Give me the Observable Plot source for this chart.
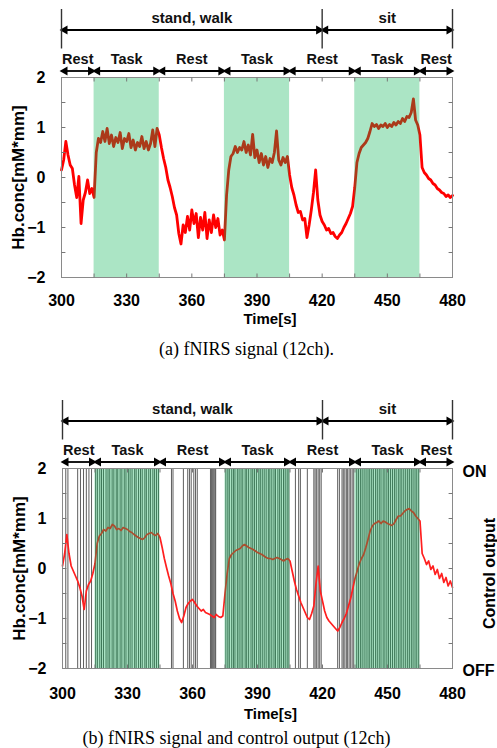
<!DOCTYPE html>
<html><head><meta charset="utf-8">
<script src="https://cdn.jsdelivr.net/npm/d3@7"></script>
<script src="https://cdn.jsdelivr.net/npm/@observablehq/plot@0.6"></script>
<style>
body{margin:0;background:#fff;}
#wrap{position:relative;width:497px;height:748px;overflow:hidden;background:#fff;}
.panel{position:absolute;left:0;}
.cap{position:absolute;width:497px;text-align:center;font-family:"Liberation Serif","Times New Roman",serif;font-size:18px;color:#000;line-height:20px;white-space:nowrap;}
</style></head><body>
<div id="wrap">
  <div id="p1" class="panel" style="top:0px"></div>
  <div class="cap" style="top:339px;left:-2px">(a) fNIRS signal (12ch).</div>
  <div id="p2" class="panel" style="top:380px"></div>
  <div class="cap" style="top:728px;left:-12px">(b) fNIRS signal and control output (12ch)</div>
</div>
<script>
// ---------- data ----------
const timeTicks = [300, 330, 360, 390, 420, 450, 480];
const hbTicks = [-2, -1, 0, 1, 2];
const minorTime = [315, 330, 345, 360, 375, 390, 405, 420, 435, 450, 465];
const minorHb = [-1.5, -1, -0.5, 0, 0.5, 1, 1.5];

const segStart = [300, 315, 345, 375, 405, 435, 465];
const segEnd   = [315, 345, 375, 405, 435, 465, 480];
const segLabel = ["Rest", "Task", "Rest", "Task", "Rest", "Task", "Rest"];

const phaseStart = [300, 420];
const phaseEnd   = [420, 480];
const phaseLabel = ["stand, walk", "sit"];
const phaseBounds = [300, 420, 480];

const taskStart = [315, 375, 435];
const taskEnd   = [345, 405, 465];

// sample times (1 s step) 300..480
const sampleTime = d3.range(300, 481);

// (a) fNIRS signal, 12ch
const hbA = [
 0.15, 0.35, 0.72, 0.45, 0.25, 0.18, -0.15, -0.4, 0.02, -0.92,
 -0.45, -0.3, -0.05, -0.32, -0.22, -0.4, 0.5, 0.78, 0.7, 0.92,
 0.72, 0.98, 0.68, 0.85, 0.62, 0.8, 0.7, 0.9, 0.58, 0.78,
 0.72, 0.88, 0.6, 0.75, 0.55, 0.7, 0.62, 0.82, 0.58, 0.72,
 0.55, 0.68, 0.95, 0.62, 0.98, 0.85, 0.6, 0.38, 0.2, -0.05,
 -0.2, -0.38, -0.6, -0.75, -1.12, -1.33, -0.95, -1.1, -0.78, -1.05,
 -0.65, -0.92, -0.72, -1.2, -0.8, -1.05, -0.7, -1.22, -0.85, -1.1,
 -0.75, -1.0, -0.82, -1.15, -1.05, -1.25, -0.35, 0.15, 0.42, 0.48,
 0.62, 0.5, 0.6, 0.55, 0.72, 0.5, 0.65, 0.45, 0.86, 0.4,
 0.55, 0.3, 0.48, 0.25, 0.42, 0.2, 0.38, 0.3, 0.5, 0.93,
 0.35, 0.25, 0.4, 0.3, 0.42, 0.05, -0.2, -0.35, -0.55, -0.7,
 -0.68, -0.85, -0.82, -1.2, -0.95, -0.65, -0.3, 0.15, -0.45, -0.75,
 -0.88, -0.95, -1.05, -1.02, -1.12, -1.1, -1.18, -1.22, -1.15, -1.1,
 -1.0, -0.92, -0.82, -0.72, -0.58, -0.2, 0.3, 0.48, 0.6, 0.65,
 0.7, 0.78, 0.92, 1.08, 1.02, 1.06, 0.98, 1.05, 1.02, 1.08,
 1.0, 1.06, 1.02, 1.1, 1.05, 1.12, 1.08, 1.18, 1.12, 1.22,
 1.2, 1.3, 1.57, 1.15, 1.05, 0.85, 0.2, 0.1, 0.05, -0.02,
 -0.05, -0.12, -0.15, -0.22, -0.25, -0.3, -0.32, -0.38, -0.35, -0.4,
 -0.36
];

// (b) fNIRS signal, 12ch (control run)
const hbB = [
 0.05, 0.3, 0.68, 0.3, 0.05, -0.05, -0.15, -0.25, -0.38, -0.55,
 -0.82, -0.45, -0.32, -0.25, -0.1, 0.1, 0.5, 0.65, 0.7, 0.78,
 0.75, 0.82, 0.8, 0.88, 0.85, 0.78, 0.8, 0.76, 0.82, 0.8,
 0.78, 0.74, 0.72, 0.68, 0.65, 0.62, 0.6, 0.58, 0.62, 0.68,
 0.7, 0.72, 0.68, 0.66, 0.7, 0.62, 0.42, 0.2, 0.02, -0.15,
 -0.3, -0.5, -0.65, -0.85, -1.0, -1.08, -0.95, -0.78, -0.7, -0.65,
 -0.62, -0.68, -0.75, -0.8, -0.85, -0.82, -0.88, -0.9, -0.92, -0.95,
 -0.98, -0.92, -0.96, -0.98, -0.95, -0.5, -0.1, 0.2, 0.28, 0.32,
 0.36, 0.38, 0.4, 0.45, 0.48, 0.45, 0.42, 0.4, 0.38, 0.35,
 0.32, 0.3, 0.28, 0.25, 0.22, 0.2, 0.2, 0.18, 0.2, 0.22,
 0.2, 0.18, 0.15, 0.18, 0.2, 0.15, -0.05, -0.25, -0.42, -0.55,
 -0.68, -0.78, -0.88, -0.98, -1.02, -0.9, -0.75, -0.3, 0.05, -0.45,
 -0.65, -0.85, -0.98, -1.05, -1.1, -1.15, -1.2, -1.25, -1.18, -1.08,
 -1.0, -0.9, -0.75, -0.6, -0.4, -0.2, -0.05, 0.1, 0.2, 0.28,
 0.42, 0.58, 0.75, 0.85, 0.9, 0.92, 0.95, 0.9, 0.95, 0.93,
 0.9, 0.88, 0.86, 0.9, 0.98, 1.05, 1.05, 1.1, 1.15, 1.18,
 1.2, 1.15, 1.12, 1.05, 1.0, 0.95, 0.3, 0.2, 0.08, 0.15,
 -0.02, 0.05, -0.12, -0.02, -0.2, -0.1, -0.28, -0.18, -0.35, -0.25,
 -0.38
];

// control output switching times [s]
const controlOn = [
 301.5, 302.5, 307, 308.3, 309.7, 311, 312.2, 313.4,
 315.3, 316.1, 317.2, 318.0, 318.9, 320.1, 321.0, 321.8, 322.9, 323.7, 324.8, 325.5,
 326.6, 327.4, 328.5, 329.3, 330.4, 331.2, 332.1, 333.3, 334.0, 335.1, 336.0, 336.8,
 338.0, 338.7, 339.8, 340.6, 341.7, 342.5, 343.4, 344.3,
 350.3, 351, 355.8, 357.8, 358.6, 359.4, 360.6, 361.4, 362.2,
 368.3, 368.8, 369.3, 369.8, 370.3, 370.7,
 375.4, 376.3, 377.0, 378.1, 378.9, 379.6, 380.7, 381.5, 382.4, 383.2, 384.3, 385.0,
 385.9, 387.0, 387.8, 388.6, 389.5, 390.6, 391.3, 392.2, 393.1, 394.0, 395.0, 395.7,
 396.6, 397.6, 398.3, 399.4, 400.2, 401.0, 402.0, 402.8, 403.7, 404.5,
 407.5, 409, 409.8, 413, 416, 416.6, 417.3, 418, 418.7, 419.4,
 427, 427.8, 429, 429.6, 430.3, 431, 431.6, 432.3, 433, 433.7, 434.4,
 435.8, 436.6, 437.5, 438.3, 439.2, 440.1, 441.0, 441.8, 442.7, 443.5, 444.5, 445.3,
 446.2, 447.0, 448.0, 448.8, 449.7, 450.5, 451.4, 452.3, 453.2, 454.0, 455.0, 455.8,
 456.6, 457.5, 458.4, 459.3, 460.1, 461.0, 461.8, 462.7, 463.5, 464.4
];

// ---------- chart ----------
const FONT = "Liberation Sans, Arial, sans-serif";
// header levels (in Hb units above the frame top)
const ARROW_Y = 2.13, LABEL_Y = 2.37, PHASE_ARROW_Y = 2.95, PHASE_LABEL_Y = 3.18, VLINE_LO = 2.58, VLINE_HI = 3.37;
const GAP = 0.45;

function headerMarks() {
  const segs = segStart.map((s, i) => ({s, e: segEnd[i], label: segLabel[i]}));
  const phases = phaseStart.map((s, i) => ({s, e: phaseEnd[i], label: phaseLabel[i]}));
  const out = [];
  for (const [rows, y, ty, fs] of [[segs, ARROW_Y, LABEL_Y, 14.5], [phases, PHASE_ARROW_Y, PHASE_LABEL_Y, 15]]) {
    out.push(Plot.link(rows, {x1: d => d.s + GAP, x2: d => d.e - GAP, y1: y, y2: y, stroke: "#000", strokeWidth: 1.8}));
    out.push(Plot.dot(rows, {x: d => d.s + GAP + 1.1, y, symbol: "triangle", rotate: -90, r: 3.4, fill: "#000", stroke: null}));
    out.push(Plot.dot(rows, {x: d => d.e - GAP - 1.1, y, symbol: "triangle", rotate: 90, r: 3.4, fill: "#000", stroke: null}));
    out.push(Plot.text(rows, {x: d => (d.s + d.e) / 2, y: ty, text: "label", fontSize: fs, fontWeight: "bold", fill: "#111"}));
  }
  out.push(Plot.link(phaseBounds, {x1: d => d, x2: d => d, y1: VLINE_LO, y2: VLINE_HI, stroke: "#333", strokeWidth: 1.4}));
  return out;
}

function panel({hb, control, marginTop, marginLeft, height, signalColor, signalWidth, tickDy, labelDy, extra}) {
  const sig = hb.map((v, i) => ({t: sampleTime[i], v}));
  const tasks = taskStart.map((s, i) => ({s, e: taskEnd[i]}));
  const marks = [];
  if (control) marks.push(Plot.ruleX(control, {stroke: "#1a1a1a", strokeWidth: 0.7}));
  marks.push(
    Plot.line(sig, {x: "t", y: "v", stroke: signalColor, strokeWidth: signalWidth, strokeLinejoin: "round"}),
    Plot.rect(tasks, {x1: "s", x2: "e", fill: "#00b050", fillOpacity: 0.33}),
    Plot.frame({stroke: "#8a8a8a", strokeWidth: 1}),
    // minor inside ticks
    Plot.link(minorTime, {x1: d => d, x2: d => d, y1: -2, y2: -1.92, stroke: "#777"}),
    Plot.link(minorTime, {x1: d => d, x2: d => d, y1: 2, y2: 1.92, stroke: "#777"}),
    Plot.link(minorHb, {x1: 300, x2: 301.8, y1: d => d, y2: d => d, stroke: "#777"}),
    Plot.link(minorHb, {x1: 480, x2: 478.2, y1: d => d, y2: d => d, stroke: "#777"}),
    Plot.axisX({ticks: timeTicks, tickSize: 0, tickPadding: tickDy, tickFormat: d3.format("d"), label: null}),
    Plot.axisY({ticks: hbTicks, tickSize: 0, tickPadding: 16, tickFormat: d3.format("d"), label: null}),
    Plot.text(["Time[s]"], {frameAnchor: "bottom", lineAnchor: "middle", dy: labelDy, dx: 13, text: d => d, fontSize: 15, fontWeight: "bold"}),
    Plot.text(["Hb.conc[mM*mm]"], {frameAnchor: "left", textAnchor: "middle", lineAnchor: "middle", rotate: -90, dx: -43, text: d => d, fontSize: 17, fontWeight: "bold"}),
    ...headerMarks(),
    ...(extra || [])
  );
  return Plot.plot({
    width: 497,
    height,
    marginTop,
    marginBottom: height - marginTop - 200,
    marginLeft,
    marginRight: 45,
    x: {domain: [300, 480]},
    y: {domain: [-2, 2]},
    style: {fontFamily: FONT, fontSize: "16px", fontWeight: "bold", color: "#000", background: "transparent", overflow: "visible"},
    marks
  });
}

document.getElementById("p1").appendChild(panel({
  hb: hbA, control: null, marginTop: 77, marginLeft: 61, height: 332,
  signalColor: "#ff0000", signalWidth: 2.8, tickDy: 17, labelDy: 42
}));

document.getElementById("p2").appendChild(panel({
  hb: hbB, control: controlOn, marginTop: 88, marginLeft: 62, height: 368,
  signalColor: "#ff1f1f", signalWidth: 1.7, tickDy: 19, labelDy: 46,
  extra: [
    Plot.text(["ON"], {frameAnchor: "top-right", lineAnchor: "middle", dx: 10, dy: 3, text: d => d, textAnchor: "start", fontSize: 16, fontWeight: "bold"}),
    Plot.text(["OFF"], {frameAnchor: "bottom-right", lineAnchor: "middle", dx: 10, dy: 2, text: d => d, textAnchor: "start", fontSize: 16, fontWeight: "bold"}),
    Plot.text(["Control output"], {frameAnchor: "right", textAnchor: "middle", lineAnchor: "middle", rotate: -90, dx: 37, dy: 5, text: d => d, fontSize: 16, fontWeight: "bold"})
  ]
}));
</script>
</body></html>
